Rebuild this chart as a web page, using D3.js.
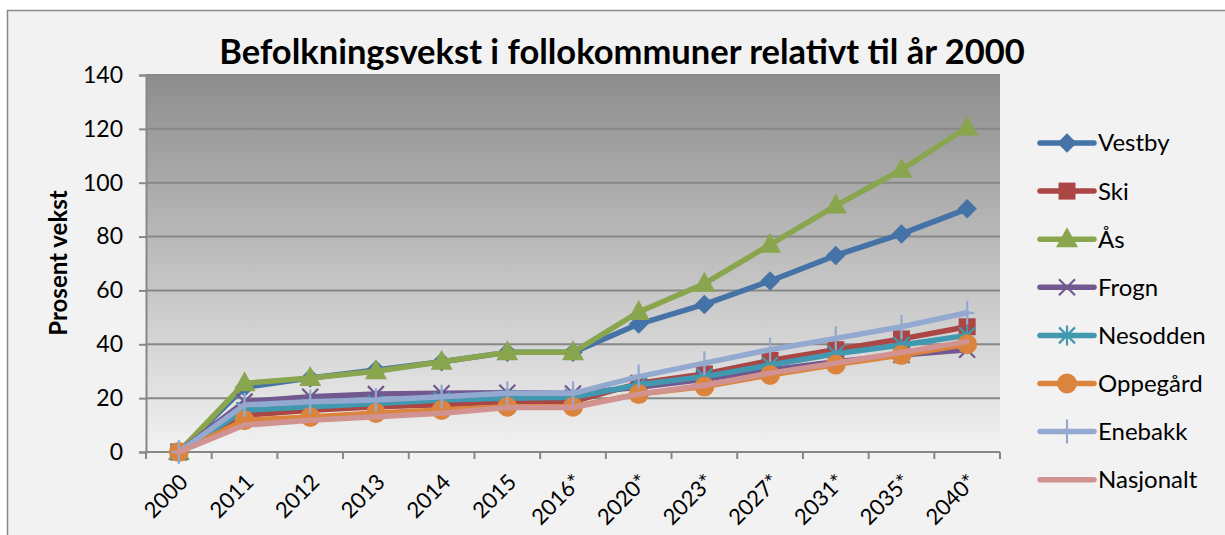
<!DOCTYPE html>
<html>
<head>
<meta charset="utf-8">
<script src="https://cdn.jsdelivr.net/npm/d3@7"></script>
<style>
  body { margin: 0; background: #fff; }
  svg { display: block; }
</style>
</head>
<body>
<div id="chart"></div>
<script>

// categories along x
var years = ["2000", "2011", "2012", "2013", "2014", "2015", "2016*", "2020*", "2023*", "2027*", "2031*", "2035*", "2040*"]

// series values (percent growth relative to 2000)
var vestby    = [0, 24, 27.5, 30.5, 33.5, 37, 37, 47.5, 54.8, 63.5, 73, 81, 90.3]
var ski       = [0, 13.7, 15.5, 16.8, 17.5, 18.7, 18.7, 25.5, 29, 34, 38, 42, 46.5]
var aas       = [0, 25.5, 27.5, 30, 33.5, 37, 37, 52, 62.5, 77, 91.5, 104.8, 120.5]
var frogn     = [0, 18.7, 20.5, 21.5, 21.8, 22, 21.7, 24, 27, 30.5, 33.5, 36, 38]
var nesodden  = [0, 15.5, 16.8, 18, 19.3, 20, 20.3, 25, 28, 32.3, 36.5, 39.7, 43.3]
var oppegard  = [0, 11.8, 13, 14.5, 15.6, 16.8, 16.8, 21.5, 24.3, 28.6, 32.5, 36, 40]
var enebakk   = [0, 17.5, 18.7, 19.3, 20.5, 21.8, 21.8, 28, 33, 38, 42.2, 46.5, 51.7]
var nasjonalt = [0, 10, 11.8, 13.1, 14.4, 16.5, 16.5, 21.5, 24.8, 29.3, 33, 37, 41]

var seriesNames = ["Vestby", "Ski", "Ås", "Frogn", "Nesodden", "Oppegård", "Enebakk", "Nasjonalt"]
var yTicks = [0, 20, 40, 60, 80, 100, 120, 140]

var series = [
  { name: seriesNames[0], values: vestby,    color: "#4572A7", marker: "diamond" },
  { name: seriesNames[1], values: ski,       color: "#AA4643", marker: "square" },
  { name: seriesNames[2], values: aas,       color: "#89A54E", marker: "triangle" },
  { name: seriesNames[3], values: frogn,     color: "#71588F", marker: "x" },
  { name: seriesNames[4], values: nesodden,  color: "#4198AF", marker: "star" },
  { name: seriesNames[5], values: oppegard,  color: "#DB843D", marker: "circle" },
  { name: seriesNames[6], values: enebakk,   color: "#93A9CF", marker: "plus" },
  { name: seriesNames[7], values: nasjonalt, color: "#D19392", marker: "none" }
]

var width = 1225
var height = 535
var margin = { left: 146, top: 75, right: 1000, bottom: 452 }
var font = "Lato, 'Open Sans', sans-serif"

var svg = d3.select("#chart").append("svg")
  .attr("width", width)
  .attr("height", height)

// outer chart area
svg.append("rect")
  .attr("x", 7.5).attr("y", 10.5)
  .attr("width", width + 10).attr("height", height + 10)
  .attr("fill", "#f2f2f2")
  .attr("stroke", "#888")
  .attr("stroke-width", 1.5)

var defs = svg.append("defs")
var grad = defs.append("linearGradient")
  .attr("id", "plotbg")
  .attr("x1", 0).attr("y1", 0).attr("x2", 0).attr("y2", 1)
grad.append("stop").attr("offset", "0%").attr("stop-color", "#8d8d8d")
grad.append("stop").attr("offset", "100%").attr("stop-color", "#f2f2f2")

var x = d3.scaleBand()
  .domain(years)
  .range([margin.left, margin.right])

var y = d3.scaleLinear()
  .domain([0, 140])
  .range([margin.bottom, margin.top])

svg.append("rect")
  .attr("x", margin.left).attr("y", margin.top)
  .attr("width", margin.right - margin.left)
  .attr("height", margin.bottom - margin.top)
  .attr("fill", "url(#plotbg)")

// gridlines
svg.append("g")
  .selectAll("line")
  .data(yTicks.filter(d => d > 0))
  .join("line")
    .attr("x1", margin.left).attr("x2", margin.right)
    .attr("y1", d => y(d)).attr("y2", d => y(d))
    .attr("stroke", "#878787")
    .attr("stroke-width", 2)

// y axis
var yAxis = svg.append("g")
  .attr("transform", `translate(${margin.left},0)`)
  .call(d3.axisLeft(y).tickValues(yTicks).tickSize(7).tickPadding(16))
yAxis.select(".domain").attr("stroke", "#878787").attr("stroke-width", 2)
yAxis.selectAll(".tick line").attr("stroke", "#878787").attr("stroke-width", 2)
yAxis.selectAll(".tick text")
  .attr("font-family", font)
  .attr("font-size", 23)
  .attr("fill", "#000")

// x axis, ticks between categories
var xAxis = svg.append("g")
  .attr("transform", `translate(0,${margin.bottom})`)
xAxis.append("line")
  .attr("x1", margin.left).attr("x2", margin.right)
  .attr("stroke", "#878787").attr("stroke-width", 2)
xAxis.selectAll("line.tk")
  .data(years.concat(["end"]))
  .join("line")
    .attr("class", "tk")
    .attr("x1", (d, i) => margin.left + i * x.bandwidth())
    .attr("x2", (d, i) => margin.left + i * x.bandwidth())
    .attr("y1", 0).attr("y2", 7)
    .attr("stroke", "#878787").attr("stroke-width", 2)
xAxis.selectAll("text")
  .data(years)
  .join("text")
    .attr("transform", d => `translate(${x(d) + x.bandwidth() / 2 + 5},${26}) rotate(-45)`)
    .attr("text-anchor", "end")
    .attr("dy", "0.35em")
    .attr("font-family", font)
    .attr("font-size", 22)
    .text(d => d)

// axis title
svg.append("text")
  .attr("transform", "translate(67,263) rotate(-90)")
  .attr("text-anchor", "middle")
  .attr("font-family", font)
  .attr("font-weight", "bold")
  .attr("font-size", 24)
  .text("Prosent vekst")

// chart title
svg.append("text")
  .attr("x", 622).attr("y", 64)
  .attr("text-anchor", "middle")
  .attr("font-family", font)
  .attr("font-weight", "bold")
  .attr("font-size", 34.5)
  .text("Befolkningsvekst i follokommuner relativt til år 2000")

function drawMarker(g, type, color) {
  if (type == "diamond") {
    g.append("path").attr("d", d3.symbol(d3.symbolSquare, 190)()).attr("transform", "rotate(45)").attr("fill", color)
  } else if (type == "square") {
    g.append("rect").attr("x", -8.5).attr("y", -8.5).attr("width", 17).attr("height", 17).attr("fill", color)
  } else if (type == "triangle") {
    g.append("path").attr("d", "M0,-12L11,8L-11,8Z").attr("fill", color)
  } else if (type == "circle") {
    g.append("circle").attr("r", 10).attr("fill", color)
  } else if (type == "x") {
    g.append("path").attr("d", "M-8,-8L8,8M-8,8L8,-8").attr("stroke", color).attr("stroke-width", 2.2)
  } else if (type == "star") {
    g.append("path").attr("d", "M-8,-8L8,8M-8,8L8,-8M0,-10L0,10").attr("stroke", color).attr("stroke-width", 2.2)
  } else if (type == "plus") {
    g.append("path").attr("d", "M0,-12L0,12M-7,0L7,0").attr("stroke", color).attr("stroke-width", 2.2)
  }
}

var line = d3.line()
  .x((d, i) => x(years[i]) + x.bandwidth() / 2)
  .y(d => y(d))

series.forEach(s => {
  var g = svg.append("g")
  g.append("path")
    .attr("d", line(s.values))
    .attr("fill", "none")
    .attr("stroke", s.color)
    .attr("stroke-width", 5.5)
    .attr("stroke-linejoin", "round")
    .attr("stroke-linecap", "round")
  s.values.forEach((v, i) => {
    var m = g.append("g")
      .attr("transform", `translate(${x(years[i]) + x.bandwidth() / 2},${y(v)})`)
    drawMarker(m, s.marker, s.color)
  })
})

// legend
var legend = svg.append("g")
  .selectAll("g")
  .data(series)
  .join("g")
    .attr("transform", (d, i) => `translate(1040,${143 + i * 48.1})`)

legend.append("line")
  .attr("x1", 0).attr("x2", 54)
  .attr("stroke", d => d.color)
  .attr("stroke-width", 5.5)
  .attr("stroke-linecap", "round")

legend.each(function(d) {
  var m = d3.select(this).append("g").attr("transform", "translate(27,0)")
  drawMarker(m, d.marker, d.color)
})

legend.append("text")
  .attr("x", 58)
  .attr("dy", "0.35em")
  .attr("font-family", font)
  .attr("font-size", 24)
  .text(d => d.name)

</script>
</body>
</html>
